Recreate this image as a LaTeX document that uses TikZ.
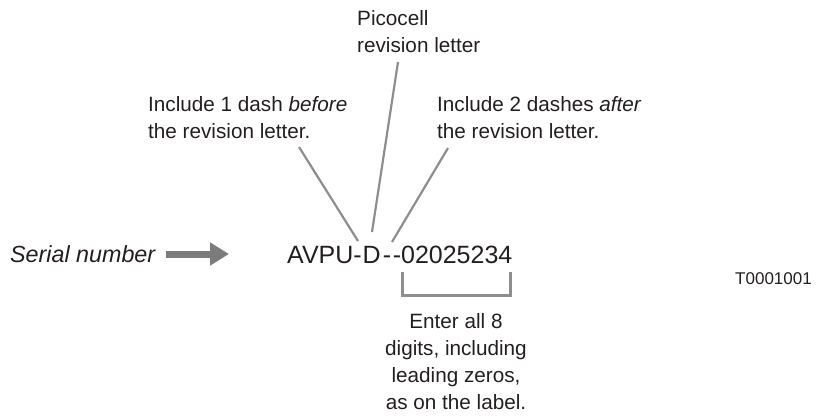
\documentclass[tikz,border=0pt]{standalone}
\usepackage{fontspec}
\setmainfont{Liberation Sans}
\usetikzlibrary{arrows.meta}
\definecolor{ink}{HTML}{231F20}
\definecolor{leader}{HTML}{8E8E8E}
\definecolor{pointer}{HTML}{7C7C7C}
\tikzset{
  note/.style={inner sep=0pt, text=ink, font=\fontsize{20.7}{27}\selectfont},
  leaderline/.style={draw=leader, line width=2.2pt},
  bracketline/.style={draw=leader, line width=3pt},
}
\begin{document}
\begin{tikzpicture}[x=1pt, y=-1pt]
\useasboundingbox (0,0) rectangle (827,415);

% labels (multi-line nodes are anchored at the baseline of their last line)
\node[note, anchor=base west, align=left] (pico) at (357,52)
  {Picocell\\revision letter};
\node[note, anchor=base west, align=left] (before) at (148,138)
  {Include 1 dash \textit{before}\\the revision letter.};
\node[note, anchor=base west, align=left] (after) at (437,138)
  {Include 2 dashes \textit{after}\\the revision letter.};
\node[note, anchor=base west, font=\fontsize{23.3}{28}\selectfont\itshape] (sn) at (10,262)
  {Serial number};
% serial number, with the dashes spaced out a little
\node[note, anchor=base west, font=\fontsize{25}{30}\selectfont] (serial) at (287,263)
  {AVPU-\kern1pt D\kern2pt-\kern1.7pt-02025234};
\node[note, anchor=base west, font=\fontsize{17}{20}\selectfont] (code) at (735,284)
  {T0001001};
\node[note, anchor=base, align=center, font=\fontsize{20.7}{26.7}\selectfont] (digits) at (456,409)
  {Enter all 8\\digits, including\\leading zeros,\\as on the label.};

% leader line end points
\coordinate (beforeTip) at (299,147);
\coordinate (picoTip) at (398,62);
\coordinate (afterTip) at (448,148);
\coordinate (dashOne) at (358,241);
\coordinate (revD) at (372,232);
\coordinate (dashTwo) at (392,242);

\draw[leaderline] (beforeTip) -- (dashOne);
\draw[leaderline] (picoTip) -- (revD);
\draw[leaderline] (afterTip) -- (dashTwo);

% bracket under the eight digits
\coordinate (brL) at (402,272);
\coordinate (brR) at (510,272);
\draw[bracketline] (brL) -- ++(0,23) -| (brR);

% pointer arrow
\coordinate (arrS) at (166,254);
\coordinate (arrE) at (229,254);
\draw[draw=pointer, line width=7pt, -{Triangle[length=19pt, width=22pt]}] (arrS) -- (arrE);
\end{tikzpicture}
\end{document}
